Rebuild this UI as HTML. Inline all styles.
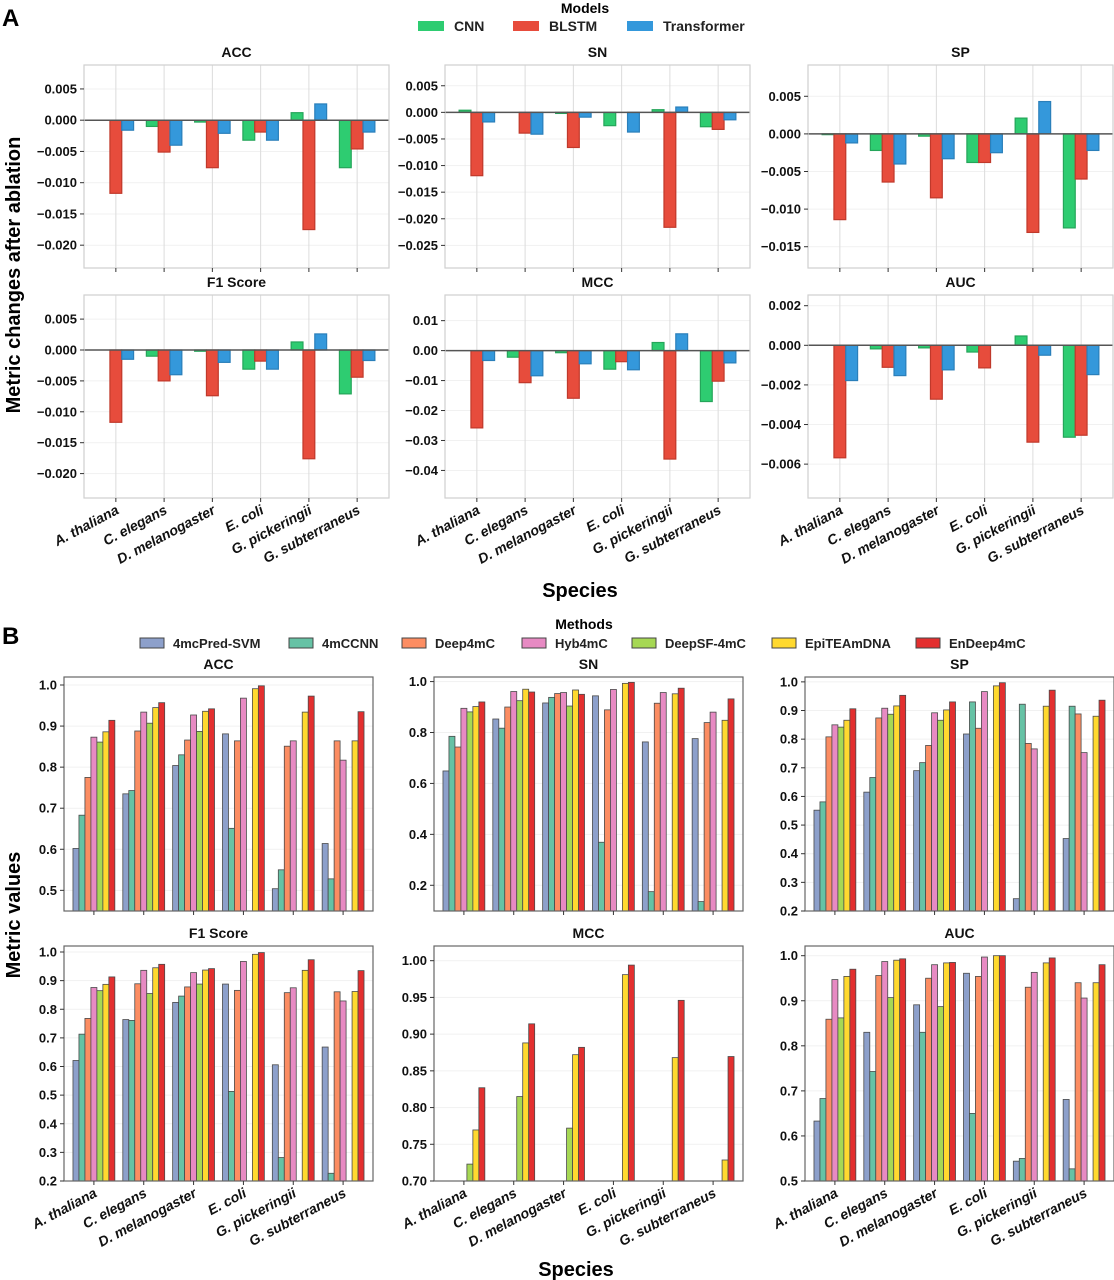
<!DOCTYPE html>
<html><head><meta charset="utf-8">
<style>
html,body{margin:0;padding:0;background:#fff;}
svg{display:block;font-family:"Liberation Sans","DejaVu Sans",sans-serif;}
</style></head>
<body>
<svg id="fig" width="1114" height="1280" viewBox="0 0 1114 1280" xmlns="http://www.w3.org/2000/svg">
<text x="2" y="26" font-size="24" font-weight="bold">A</text>
<text x="2" y="644" font-size="24" font-weight="bold">B</text>
<text x="585" y="13" font-size="14" font-weight="bold" text-anchor="middle">Models</text>
<text x="584" y="629" font-size="14" font-weight="bold" text-anchor="middle">Methods</text>
<text transform="translate(20,275) rotate(-90)" font-size="20" font-weight="bold" text-anchor="middle">Metric changes after ablation</text>
<text transform="translate(20,915) rotate(-90)" font-size="20" font-weight="bold" text-anchor="middle">Metric values</text>
<text x="580" y="597" font-size="20" font-weight="bold" text-anchor="middle">Species</text>
<text x="576" y="1276" font-size="20" font-weight="bold" text-anchor="middle">Species</text>
</svg>
<script>
// ---------- data ----------
const species = ["A. thaliana","C. elegans","D. melanogaster","E. coli","G. pickeringii","G. subterraneus"];
const modelsA = ["CNN","BLSTM","Transformer"];
const methodsB = ["4mcPred-SVM","4mCCNN","Deep4mC","Hyb4mC","DeepSF-4mC","EpiTEAmDNA","EnDeep4mC"];

// Panel A: rows = CNN, BLSTM, Transformer
const aACC = [[0,-0.001,-0.0003,-0.0032,0.0012,-0.0076],[-0.0117,-0.0051,-0.0076,-0.0019,-0.0175,-0.0046],[-0.0016,-0.004,-0.0021,-0.0032,0.0026,-0.0019]];
const aSN  = [[0.0004,0,-0.0002,-0.0025,0.0005,-0.0027],[-0.0119,-0.0039,-0.0066,0,-0.0216,-0.0032],[-0.0018,-0.0041,-0.0009,-0.0037,0.001,-0.0014]];
const aSP  = [[-0.0001,-0.0022,-0.0003,-0.0038,0.0021,-0.0125],[-0.0114,-0.0064,-0.0085,-0.0038,-0.0131,-0.006],[-0.0012,-0.004,-0.0033,-0.0025,0.0043,-0.0022]];
const aF1  = [[0,-0.001,-0.0002,-0.0031,0.0013,-0.0071],[-0.0117,-0.005,-0.0074,-0.0018,-0.0176,-0.0044],[-0.0015,-0.004,-0.002,-0.0031,0.0026,-0.0017]];
const aMCC = [[0,-0.0022,-0.0007,-0.0062,0.0027,-0.017],[-0.0258,-0.0107,-0.0159,-0.0037,-0.0362,-0.0102],[-0.0033,-0.0084,-0.0044,-0.0064,0.0056,-0.0041]];
const aAUC = [[0,-0.00018,-0.00013,-0.00034,0.00047,-0.00464],[-0.00568,-0.00111,-0.00272,-0.00114,-0.00489,-0.00454],[-0.00178,-0.00153,-0.00124,0,-0.0005,-0.00148]];

// Panel B: rows = methods (order of methodsB)
const bACC = [[0.602,0.735,0.804,0.881,0.504,0.614],[0.683,0.743,0.83,0.651,0.55,0.528],[0.775,0.888,0.866,0.864,0.851,0.864],[0.873,0.934,0.927,0.968,0.864,0.817],[0.861,0.907,0.887,null,null,null],[0.886,0.945,0.936,0.991,0.934,0.864],[0.914,0.957,0.942,0.998,0.973,0.935]];
const bSN  = [[0.649,0.853,0.916,0.944,0.763,0.776],[0.785,0.817,0.938,0.369,0.175,0.136],[0.743,0.9,0.953,0.889,0.915,0.839],[0.895,0.961,0.957,0.969,0.957,0.88],[0.881,0.925,0.904,null,null,null],[0.902,0.97,0.967,0.993,0.952,0.848],[0.92,0.959,0.95,0.997,0.974,0.932]];
const bSP  = [[0.552,0.615,0.69,0.818,0.243,0.453],[0.581,0.666,0.718,0.93,0.922,0.915],[0.808,0.874,0.778,0.838,0.785,0.888],[0.85,0.908,0.892,0.966,0.766,0.753],[0.842,0.887,0.866,null,null,null],[0.866,0.916,0.902,0.986,0.915,0.88],[0.906,0.953,0.93,0.997,0.971,0.936]];
const bF1  = [[0.621,0.764,0.824,0.888,0.606,0.668],[0.713,0.761,0.846,0.513,0.282,0.227],[0.768,0.889,0.878,0.866,0.858,0.861],[0.876,0.936,0.928,0.967,0.875,0.829],[0.865,0.855,0.888,null,null,null],[0.887,0.945,0.937,0.992,0.936,0.862],[0.913,0.957,0.942,0.998,0.973,0.935]];
const bMCC = [[null,null,null,null,null,null],[null,null,null,null,null,null],[null,null,null,null,null,null],[null,null,null,null,null,null],[0.723,0.815,0.772,null,null,null],[0.7695,0.888,0.872,0.981,0.868,0.7286],[0.827,0.914,0.882,0.994,0.946,0.8695]];
const bAUC = [[0.633,0.83,0.891,0.961,0.544,0.681],[0.683,0.743,0.83,0.65,0.55,0.527],[0.859,0.956,0.95,0.954,0.93,0.94],[0.947,0.987,0.98,0.997,0.963,0.906],[0.862,0.907,0.887,null,null,null],[0.954,0.99,0.984,1.0,0.984,0.94],[0.97,0.993,0.985,1.0,0.995,0.98]];

// tick values
const ticksAccA = [0.005,0,-0.005,-0.01,-0.015,-0.02];
const ticksSnA  = [0.005,0,-0.005,-0.01,-0.015,-0.02,-0.025];
const ticksSpA  = [0.005,0,-0.005,-0.01,-0.015];
const ticksF1A  = [0.005,0,-0.005,-0.01,-0.015,-0.02];
const ticksMccA = [0.01,0,-0.01,-0.02,-0.03,-0.04];
const ticksAucA = [0.002,0,-0.002,-0.004,-0.006];
const ticksAccB = [0.5,0.6,0.7,0.8,0.9,1.0];
const ticksSnB  = [0.2,0.4,0.6,0.8,1.0];
const ticksSpB  = [0.2,0.3,0.4,0.5,0.6,0.7,0.8,0.9,1.0];
const ticksF1B  = [0.2,0.3,0.4,0.5,0.6,0.7,0.8,0.9,1.0];
const ticksMccB = [0.70,0.75,0.80,0.85,0.90,0.95,1.00];
const ticksAucB = [0.5,0.6,0.7,0.8,0.9,1.0];

// ---------- styling ----------
const colA = ["#2ecc71","#e74c3c","#3498db"];
const edgeA = ["#25a55a","#c0392b","#2a7fba"];
const colB = ["#8da0cb","#66c2a5","#fc8d62","#e78ac3","#a6d854","#ffd92f","#e32f2f"];

const NS = "http://www.w3.org/2000/svg";
const svg = document.getElementById("fig");
function mk(tag, attrs, parent){
  const e = document.createElementNS(NS, tag);
  for (const k in attrs) e.setAttribute(k, attrs[k]);
  (parent||svg).appendChild(e);
  return e;
}
function fmt(v, d){ const s = Math.abs(v).toFixed(d); return (v < -1e-12 ? "\u2212" : "") + s; }

function panel(o){
  const g = mk("g", {});
  
  
  const L=o.x, T=o.y, W=o.w, H=o.h;
  const yS = v => T + (o.yhi - v) / (o.yhi - o.ylo) * H;
  const unit = W / (5 + 2*o.pad);
  const xS = i => L + (i + o.pad) * unit;
  const cid = "clip-" + o.name;
  const cp = mk("clipPath", {id: cid}, g);
  mk("rect", {x:L, y:T, width:W, height:H}, cp);
  o.ticks.forEach(t => {
    const l = mk("line", {x1:L, x2:L+W, y1:yS(t), y2:yS(t), stroke:"#f1f1f1", "stroke-width":1}, g);
    
    
  });
  if (o.style === "A") {
    species.forEach((s,i) => {
      const l = mk("line", {x1:xS(i), x2:xS(i), y1:T, y2:T+H, stroke:"#dcdcdc", "stroke-width":1}, g);
      
      
    });
  }
  const n = o.data.length;
  const bw = o.bw * unit;
  const bg = mk("g", {"clip-path": "url(#" + cid + ")"}, g);
  o.data.forEach((row, k) => {
    row.forEach((v, i) => {
      if (v === null || v === undefined) return;
      const cx = xS(i) + (k - (n-1)/2) * o.bw * unit;
      const base = o.style === "A" ? 0 : o.ylo;
      const y1 = yS(Math.max(v, base)), y2 = yS(Math.min(v, base));
      const r = mk("rect", {x:cx - bw/2, y:y1, width:bw, height:Math.max(y2-y1, 0),
        fill:o.colors[k], stroke:o.edges ? o.edges[k] : "#4a4a4a", "stroke-width": o.style === "A" ? 1.2 : 0.8}, bg);
      
      
    });
  });
  if (o.style === "A") {
    const z = mk("line", {x1:L, x2:L+W, y1:yS(0), y2:yS(0), stroke:"#555", "stroke-width":1.5}, g);
    
    
  }
  const f = mk("rect", {x:L, y:T, width:W, height:H, fill:"none", stroke:o.style === "A" ? "#cfcfcf" : "#666", "stroke-width":1.2}, g);
  
  
  o.ticks.forEach(t => {
    mk("line", {x1:L-4, x2:L, y1:yS(t), y2:yS(t), stroke:"#333", "stroke-width":1}, g);
    const tx = mk("text", {x:L-7, y:yS(t)+4.5, "font-size":13, "font-weight":"bold", "text-anchor":"end", fill:"#111"}, g);
    tx.textContent = fmt(t, o.dec);
    
    
  });
  species.forEach((s,i) => {
    mk("line", {x1:xS(i), x2:xS(i), y1:T+H, y2:T+H+4, stroke:"#333", "stroke-width":1}, g);
    if (o.xlabels) {
      const tx = mk("text", {x:xS(i)+4, y:T+H+15, "font-size":14, "font-weight":"bold", "font-style":"italic",
        "text-anchor":"end", fill:"#111", transform:"rotate(-28 " + (xS(i)+4) + " " + (T+H+15) + ")"}, g);
      tx.textContent = s;
      
      
    }
  });
  const tt = mk("text", {x:L+W/2, y:T-8, "font-size":14, "font-weight":"bold", "text-anchor":"middle", fill:"#111"}, g);
  tt.textContent = o.title;
  
  
}

const colsA = [84, 445, 808], colsB = [64, 434, 805];
const WA = 305, WB = 309;
const common = {series: modelsA, colors: colA, edges: edgeA, style: "A", pad: 0.66, bw: 0.245};
panel(Object.assign({}, common, {name:"a-acc", title:"ACC", x:colsA[0], y:65, w:WA, h:203, ylo:-0.02365, yhi:0.00883, ticks:ticksAccA, dec:3, data:aACC, xlabels:false}));
panel(Object.assign({}, common, {name:"a-sn", title:"SN", x:colsA[1], y:65, w:WA, h:203, ylo:-0.02925, yhi:0.0089, ticks:ticksSnA, dec:3, data:aSN, xlabels:false}));
panel(Object.assign({}, common, {name:"a-sp", title:"SP", x:colsA[2], y:65, w:WA, h:203, ylo:-0.01783, yhi:0.00916, ticks:ticksSpA, dec:3, data:aSP, xlabels:false}));
panel(Object.assign({}, common, {name:"a-f1", title:"F1 Score", x:colsA[0], y:295, w:WA, h:203, ylo:-0.02395, yhi:0.0089, ticks:ticksF1A, dec:3, data:aF1, xlabels:true}));
panel(Object.assign({}, common, {name:"a-mcc", title:"MCC", x:colsA[1], y:295, w:WA, h:203, ylo:-0.0492, yhi:0.01856, ticks:ticksMccA, dec:2, data:aMCC, xlabels:true}));
panel(Object.assign({}, common, {name:"a-auc", title:"AUC", x:colsA[2], y:295, w:WA, h:203, ylo:-0.00771, yhi:0.00254, ticks:ticksAucA, dec:3, data:aAUC, xlabels:true}));

const commonB = {series: methodsB, colors: colB, edges: null, style: "B", pad: 0.6, bw: 0.12};
panel(Object.assign({}, commonB, {name:"b-acc", title:"ACC", x:colsB[0], y:677, w:WB, h:234, ylo:0.4497, yhi:1.0195, ticks:ticksAccB, dec:1, data:bACC, xlabels:false}));
panel(Object.assign({}, commonB, {name:"b-sn", title:"SN", x:colsB[1], y:677, w:WB, h:234, ylo:0.099, yhi:1.018, ticks:ticksSnB, dec:1, data:bSN, xlabels:false}));
panel(Object.assign({}, commonB, {name:"b-sp", title:"SP", x:colsB[2], y:677, w:WB, h:234, ylo:0.2, yhi:1.017, ticks:ticksSpB, dec:1, data:bSP, xlabels:false}));
panel(Object.assign({}, commonB, {name:"b-f1", title:"F1 Score", x:colsB[0], y:946, w:WB, h:235, ylo:0.2, yhi:1.021, ticks:ticksF1B, dec:1, data:bF1, xlabels:true}));
panel(Object.assign({}, commonB, {name:"b-mcc", title:"MCC", x:colsB[1], y:946, w:WB, h:235, ylo:0.7, yhi:1.02, ticks:ticksMccB, dec:2, data:bMCC, xlabels:true}));
panel(Object.assign({}, commonB, {name:"b-auc", title:"AUC", x:colsB[2], y:946, w:WB, h:235, ylo:0.5, yhi:1.0215, ticks:ticksAucB, dec:1, data:bAUC, xlabels:true}));

const legAx = [418, 513, 627];
modelsA.forEach((m,k) => {
  const r = mk("rect", {x:legAx[k], y:21, width:26, height:10, fill:colA[k]});
  
  
  const t = mk("text", {x:legAx[k]+36, y:31, "font-size":14, "font-weight":"bold", fill:"#222"});
  t.textContent = m;
  
  
});
const legBx = [140, 289, 402, 522, 632, 772, 916];
methodsB.forEach((m,k) => {
  const r = mk("rect", {x:legBx[k], y:638, width:24, height:10, fill:colB[k], stroke:"#444", "stroke-width":1});
  
  
  const t = mk("text", {x:legBx[k]+33, y:648, "font-size":13, "font-weight":"bold", fill:"#222"});
  t.textContent = m;
  
  
});
</script>
</body></html>
